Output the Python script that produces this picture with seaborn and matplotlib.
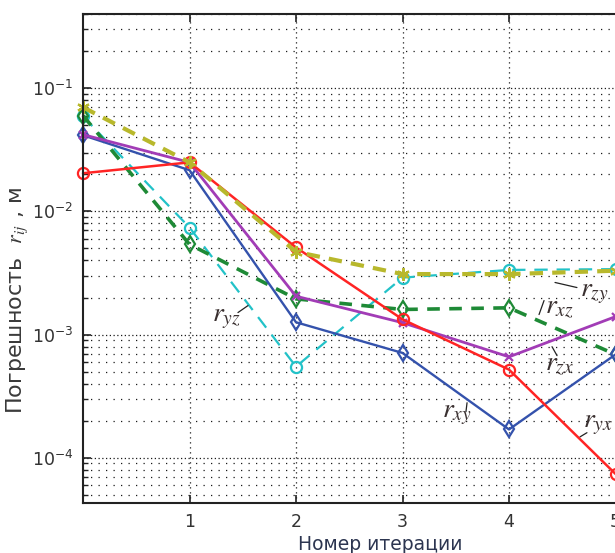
import numpy as np
import pandas as pd
import matplotlib
matplotlib.use("Agg")
import matplotlib.pyplot as plt
import matplotlib.ticker as mticker
import seaborn as sns

sns.set_theme(style="white")
plt.rcParams["font.family"] = ["DejaVu Sans"]
plt.rcParams["mathtext.fontset"] = "stix"

# -----------------------------------------------------------------------------
# Donnees (erreur en m par iteration)
# -----------------------------------------------------------------------------
iterations = [0, 1, 2, 3, 4, 5]

err_cyan = [0.059, 0.0074, 5.5e-4, 2.9e-3, 3.35e-3, 3.4e-3]
err_green = [0.060, 0.0054, 1.95e-3, 1.6e-3, 1.65e-3, 6.9e-4]
err_blue = [0.0415, 0.0216, 1.26e-3, 7.1e-4, 1.7e-4, 6.9e-4]
err_purple = [0.042, 0.025, 2.05e-3, 1.25e-3, 6.6e-4, 1.4e-3]
err_red = [0.0204, 0.025, 5.1e-3, 1.33e-3, 5.2e-4, 7.4e-5]
err_olive = [0.070, 0.025, 4.7e-3, 3.1e-3, 3.1e-3, 3.3e-3]

# etiquettes des courbes : (texte, x, y) et traits de rappel
labels_txt = [r"$r_{yz}$", r"$r_{zy}$", r"$r_{xz}$", r"$r_{zx}$", r"$r_{xy}$", r"$r_{yx}$"]
labels_x = [1.21, 4.667, 4.338, 4.338, 3.370, 4.695]
labels_y = [1.28e-3, 2.04e-3, 1.51e-3, 5.19e-4, 2.11e-4, 1.75e-4]
leaders_x = [(1.455, 1.549), (4.432, 4.638), (4.282, 4.329), (4.404, 4.451), (3.596, 3.606), (4.667, 4.732)]
leaders_y = [(1.51e-3, 1.72e-3), (2.65e-3, 2.41e-3), (1.455e-3, 1.89e-3), (7.98e-4, 6.75e-4), (2.37e-4, 2.80e-4), (1.48e-4, 1.60e-4)]

xtick_vals = [1, 2, 3, 4, 5, 6]

# -----------------------------------------------------------------------------
# Figure
# -----------------------------------------------------------------------------
W, H = 615, 553
fig = plt.figure(figsize=(W / 100, H / 100), dpi=100)
ax = fig.add_axes([83 / W, 1 - 503 / H, 639 / W, 489 / H])

series = [
    (err_cyan, "#22c2c8", "o", (0, (6, 4)), 1.6, 8),
    (err_green, "#1e8a36", "d", (0, (3.5, 2.6)), 2.6, 8),
    (err_blue, "#3452ac", "d", "-", 1.7, 8),
    (err_purple, "#a23cb6", "x", "-", 2.0, 6),
    (err_red, "#ff2424", "o", "-", 1.8, 8),
    (err_olive, "#b8b82c", (6, 2, 0), (0, (3.2, 2.2)), 3.0, 9),
]
for vals, col, mk, ls, lw, ms in series:
    df = pd.DataFrame({"it": iterations, "err": vals})
    sns.lineplot(data=df, x="it", y="err", ax=ax, color=col, marker=mk,
                 linestyle=ls, lw=lw, markersize=ms, markerfacecolor="none",
                 markeredgecolor=col, markeredgewidth=1.6, clip_on=False)

ax.set_yscale("log")
ax.set_xlim(0, 6)
ax.set_ylim(4.3e-5, 0.4)

ax.yaxis.set_major_locator(mticker.LogLocator(base=10, numticks=10))
ax.yaxis.set_minor_locator(mticker.LogLocator(base=10, subs=np.arange(2, 10), numticks=20))
ax.yaxis.set_major_formatter(mticker.LogFormatterSciNotation())
ax.yaxis.set_minor_formatter(mticker.NullFormatter())
ax.set_xticks(xtick_vals)
ax.set_xticklabels([str(v) for v in xtick_vals])

ax.grid(False)
ax.grid(which="major", axis="y", color="k", lw=0.9, linestyle=(0, (1, 2)))
ax.grid(which="minor", axis="y", color="k", lw=0.9, linestyle=(0, (1, 5)))
ax.grid(which="major", axis="x", color="k", lw=0.9, linestyle=(0, (1, 3)))
ax.set_axisbelow(True)

for s in ["left", "top", "bottom"]:
    ax.spines[s].set_color("#222222")
    ax.spines[s].set_linewidth(1.5)
ax.tick_params(which="both", direction="in", top=True, right=False, left=True, bottom=True,
               colors="#222222", labelcolor="#333333")
ax.tick_params(which="major", length=6, width=1.2, labelsize=12.5, pad=7)
ax.tick_params(which="minor", length=3.5, width=1.0)
ax.set_xlabel("")
ax.set_ylabel("")

for txt, x, y in zip(labels_txt, labels_x, labels_y):
    ax.text(x, y, txt, fontsize=20, color="#3a3030", ha="left", va="baseline")
for lx, ly in zip(leaders_x, leaders_y):
    ax.plot(lx, ly, color="#222222", lw=0.9)

fig.text(17 / W, 1 - 300 / H, "Погрешность  $r_{ij}$ , м", rotation=90,
         ha="center", va="center", fontsize=16, color="#3a3a3a")
fig.text(380 / W, 1 - 550 / H, "Номер итерации", ha="center", va="baseline",
         fontsize=13.5, color="#2c3550")

fig.savefig("out.png", dpi=100)
